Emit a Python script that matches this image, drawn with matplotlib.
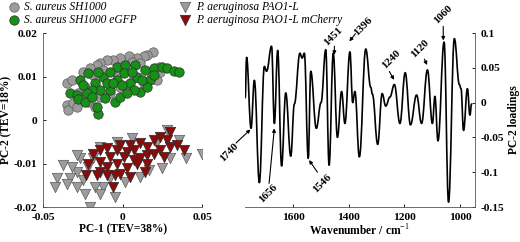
import matplotlib.pyplot as plt
from matplotlib.path import Path
from matplotlib.patches import PathPatch

plt.rcParams['font.family'] = ['Liberation Serif', 'DejaVu Serif']
plt.rcParams['mathtext.fontset'] = 'custom'
plt.rcParams['mathtext.rm'] = 'Liberation Serif'
plt.rcParams['mathtext.bf'] = 'Liberation Serif:bold'

# ---- scores (PC-1, PC-2) ----
sa_x = [0.0189, 0.0154, 0.0133, 0.0090, 0.0038, -0.0015, -0.0057, -0.0099, -0.0141, -0.0162,
        -0.0204, -0.0246, -0.0351, -0.0320, -0.0351, -0.0341, -0.0309, -0.0278, -0.0257, -0.0215,
        -0.0141, -0.0078, 0.0227, 0.0217, 0.0238, 0.0185, 0.0059, 0.0112, -0.0183, -0.0120,
        -0.0036, 0.0069, -0.0236, -0.0015, 0.0133, -0.0173, 0.0027, -0.0288]
sa_y = [0.0157, 0.0149, 0.0146, 0.0142, 0.0146, 0.0142, 0.0138, 0.0138, 0.0132, 0.0126,
        0.0119, 0.0111, 0.0084, 0.0092, 0.0034, 0.0023, 0.0038, 0.0061, 0.0050, 0.0042,
        0.0054, 0.0061, 0.0123, 0.0092, 0.0111, 0.0103, 0.0134, 0.0130, 0.0103, 0.0115,
        0.0107, 0.0096, 0.0077, 0.0077, 0.0084, 0.0031, 0.0069, 0.0031]

sag_x = [-0.0215, -0.0267, -0.0330, -0.0288, -0.0278, -0.0236, -0.0152, -0.0162, -0.0036, 0.0017,
         0.0080, 0.0143, 0.0196, 0.0248, 0.0280, 0.0322, 0.0354, -0.0046, -0.0078, 0.0048,
         0.0112, 0.0069, 0.0006, -0.0120, -0.0099, 0.0175, -0.0015, -0.0173, -0.0141, 0.0027,
         0.0154, 0.0090, 0.0122, -0.0194, -0.0225, -0.0078, -0.0152, -0.0036, 0.0196, 0.0059,
         -0.0057, -0.0004, -0.0246, -0.0194, -0.0109]
sag_y = [0.0107, 0.0093, 0.0061, 0.0057, 0.0048, 0.0042, 0.0014, 0.0031, 0.0123, 0.0126,
         0.0126, 0.0115, 0.0119, 0.0123, 0.0119, 0.0113, 0.0111, 0.0042, 0.0069, 0.0084,
         0.0065, 0.0069, 0.0107, 0.0100, 0.0084, 0.0092, 0.0054, 0.0084, 0.0069, 0.0061,
         0.0077, 0.0100, 0.0092, 0.0069, 0.0061, 0.0111, 0.0111, 0.0092, 0.0103, 0.0111,
         0.0084, 0.0080, 0.0080, 0.0054, 0.0050]

pa_x = [0.0501, 0.0396, 0.0280, 0.0354, 0.0301, 0.0248, 0.0217, 0.0164, 0.0112, 0.0059,
        0.0017, -0.0036, -0.0046, -0.0078, -0.0120, -0.0141, -0.0173, -0.0183, -0.0204, -0.0215,
        -0.0246, -0.0267, -0.0288, -0.0288, -0.0288, -0.0320, -0.0330, -0.0372, -0.0415, -0.0425,
        -0.0351, -0.0236, -0.0141]
pa_y = [-0.0077, -0.0088, -0.0023, -0.0046, -0.0088, -0.0111, -0.0050, -0.0115, -0.0130, -0.0042,
        -0.0142, -0.0050, -0.0176, -0.0134, -0.0153, -0.0061, -0.0153, -0.0088, -0.0199, -0.0107,
        -0.0138, -0.0088, -0.0080, -0.0119, -0.0153, -0.0107, -0.0134, -0.0103, -0.0134, -0.0153,
        -0.0146, -0.0169, -0.0169]

pam_x = [0.0301, 0.0343, 0.0385, 0.0238, 0.0280, 0.0196, 0.0154, 0.0112, 0.0069, 0.0027,
         -0.0036, -0.0099, -0.0141, -0.0183, -0.0215, -0.0141, -0.0099, -0.0046, -0.0057, -0.0141,
         -0.0229, -0.0162, -0.0015, 0.0027, 0.0069, 0.0112, 0.0154, 0.0196, 0.0143, 0.0090,
         0.0048, -0.0036, -0.0078, 0.0006, 0.0238, 0.0301, 0.0259, 0.0048, -0.0015, 0.0154,
         -0.0099]
pam_y = [-0.0027, -0.0057, -0.0069, -0.0038, -0.0046, -0.0046, -0.0061, -0.0054, -0.0069, -0.0073,
         -0.0069, -0.0065, -0.0069, -0.0077, -0.0100, -0.0096, -0.0107, -0.0126, -0.0153, -0.0119,
         -0.0126, -0.0126, -0.0123, -0.0111, -0.0092, -0.0088, -0.0080, -0.0077, -0.0119, -0.0100,
         -0.0130, -0.0100, -0.0084, -0.0084, -0.0069, -0.0061, -0.0084, -0.0057, -0.0057, -0.0100,
         -0.0126]

# ---- PC-2 loadings (extrema) ----
wavenumber = [1773, 1768, 1752, 1740, 1722, 1704, 1696, 1678, 1668, 1656,
              1642, 1627, 1609, 1596, 1576, 1568, 1560, 1546, 1537, 1517,
              1500, 1483, 1471, 1456, 1441, 1426, 1414, 1396, 1386, 1378,
              1362, 1339, 1321, 1315, 1296, 1280, 1267, 1252, 1236, 1216,
              1197, 1178, 1156, 1138, 1117, 1099, 1090, 1079, 1057, 1041,
              1020, 1002, 996, 987, 973, 964, 958]
loading = [0.007, 0.065, -0.037, 0.032, -0.115, 0.052, 0.045, 0.081, -0.030, 0.075,
           -0.091, 0.014, -0.077, -0.002, 0.071, 0.064, 0.071, -0.080, 0.045, -0.037,
           0.000, 0.076, -0.090, 0.071, -0.050, 0.016, -0.030, 0.073, 0.000, 0.016,
           -0.078, 0.077, 0.022, 0.012, -0.060, 0.013, -0.005, 0.008, 0.026, -0.030,
           0.043, -0.032, 0.011, -0.030, 0.047, -0.030, 0.009, -0.055, 0.087, -0.143,
           0.092, 0.026, 0.020, -0.040, 0.020, -0.018, -0.002]

peak_labels = ["1740", "1656", "1546", "1451", "1396", "1240", "1120", "1060"]
peak_tip = [(1754, -0.0386), (1668, -0.037), (1543, -0.0826), (1452, 0.0687),
            (1398, 0.088), (1237, 0.0327), (1118, 0.054), (1060, 0.0893)]
peak_tail = [(1806, -0.058), (1687, -0.116), (1513, -0.100), (1452, 0.081),
             (1376, 0.099), (1254, 0.0447), (1128, 0.0625), (1060, 0.1095)]
peak_text = [(1831, -0.071), (1691, -0.130), (1497, -0.116), (1456, 0.095),
             (1349, 0.109), (1246, 0.0615), (1144, 0.0774), (1060, 0.126)]

fig = plt.figure(figsize=(5.2, 2.42), dpi=100)
ax1 = fig.add_axes([0.0827, 0.1446, 0.306, 0.719])
ax2 = fig.add_axes([0.471, 0.1446, 0.4423, 0.719])

ax1.scatter(sa_x, sa_y, s=46, marker='o', color='#9c9c9c', edgecolor='#5a5a5a', linewidth=0.5,
            label='S. aureus SH1000', zorder=2)
ax1.scatter(sag_x, sag_y, s=46, marker='o', color='#169016', edgecolor='#2e2e2e', linewidth=0.5,
            label='S. aureus SH1000 eGFP', zorder=3)
ax1.scatter(pa_x, pa_y, s=56, marker='v', color='#9c9c9c', edgecolor='#5a5a5a', linewidth=0.5,
            label='P. aeruginosa PAO1-L', zorder=2)
ax1.scatter(pam_x, pam_y, s=56, marker='v', color='#8b0a0a', edgecolor='#2e2e2e', linewidth=0.5,
            label='P. aeruginosa PAO1-L mCherry', zorder=3)

ax1.set_xlim(-0.05, 0.05)
ax1.set_ylim(-0.02, 0.02)
ax1.set_xticks([-0.05, 0, 0.05])
ax1.set_xticklabels(['-0.05', '0', '0.05'])
ax1.set_yticks([-0.02, -0.01, 0, 0.01, 0.02])
ax1.set_yticklabels(['-0.02', '-0.01', '0', '0.01', '0.02'])
ax1.spines['top'].set_visible(False)
ax1.spines['right'].set_visible(False)
ax1.set_xlabel('PC-1 (TEV=38%)', fontweight='bold', fontsize=8.3, labelpad=1)
ax1.set_ylabel('PC-2 (TEV=18%)', fontweight='bold', fontsize=8.3, labelpad=1)

# smooth curve through the read extrema (flat tangents at each extremum)
verts = [(wavenumber[0], loading[0])]
codes = [Path.MOVETO]
for i in range(1, len(wavenumber)):
    x0, y0 = wavenumber[i - 1], loading[i - 1]
    x1, y1 = wavenumber[i], loading[i]
    dx = x1 - x0
    verts += [(x0 + 0.4 * dx, y0), (x1 - 0.4 * dx, y1), (x1, y1)]
    codes += [Path.CURVE4] * 3
ax2.add_patch(PathPatch(Path(verts, codes), fill=False, edgecolor='black', lw=1.2,
                        joinstyle='round', capstyle='round'))
ax2.set_xlim(1774, 946)
ax2.set_ylim(-0.15, 0.1)
ax2.set_xticks([1600, 1400, 1200, 1000])
ax2.set_yticks([-0.15, -0.1, -0.05, 0, 0.05, 0.1])
ax2.set_yticklabels(['-0.15', '-0.1', '-0.05', '0', '0.05', '0.1'])
ax2.yaxis.tick_right()
ax2.yaxis.set_label_position('right')
ax2.spines['top'].set_visible(False)
ax2.spines['left'].set_visible(False)
ax2.set_xlabel('Wavenumber / cm$^{-1}$', fontweight='bold', fontsize=8.3, labelpad=1)
ax2.set_ylabel('PC-2 loadings', fontweight='bold', fontsize=8.3, labelpad=3)

for lab, tip, tail, pos in zip(peak_labels, peak_tip, peak_tail, peak_text):
    ax2.annotate('', xy=tip, xytext=tail, annotation_clip=False,
                 arrowprops=dict(arrowstyle='-|>', color='black', lw=0.8,
                                 mutation_scale=5, shrinkA=0, shrinkB=0))
    ax2.text(pos[0], pos[1], lab, rotation=45, ha='center', va='center',
             fontsize=8, fontweight='bold', clip_on=False)

for ax in (ax1, ax2):
    ax.tick_params(direction='in', length=2, width=0.6, labelsize=8.2)
    ax.tick_params(axis='x', pad=4)
    ax.tick_params(axis='y', pad=4)
    for lbl in ax.get_xticklabels() + ax.get_yticklabels():
        lbl.set_fontweight('bold')
    for sp in ax.spines.values():
        sp.set_linewidth(0.6)
        sp.set_color('#555555')

fig.legend(loc='upper left', bbox_to_anchor=(0.0, 1.025), ncol=2, frameon=False,
           prop={'style': 'italic', 'size': 8.3}, handletextpad=0.3, columnspacing=3.6,
           labelspacing=0.12, borderaxespad=0.2, handlelength=1.2)

plt.savefig('out.png', dpi=100)
